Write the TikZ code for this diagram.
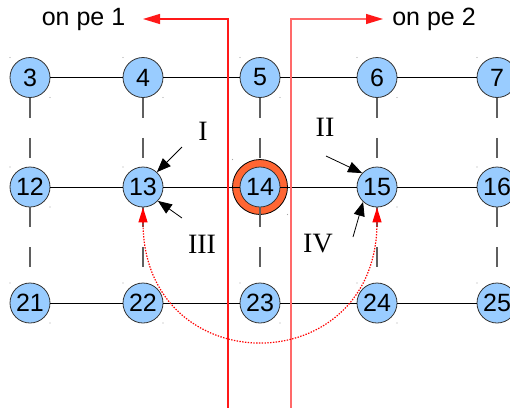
\documentclass[tikz,border=0pt]{standalone}
\usepackage{fontspec}
\setmainfont{Liberation Serif}
\newfontfamily\arialf{Liberation Sans}
\usetikzlibrary{arrows.meta}
\definecolor{nodeblue}{RGB}{153,204,255}
\definecolor{ringorange}{RGB}{255,102,51}
\definecolor{edgegray}{RGB}{51,51,51}
\definecolor{dashgray}{RGB}{95,95,95}
\definecolor{redA}{RGB}{255,25,25}
\definecolor{redB}{RGB}{255,105,105}
\begin{document}
\begin{tikzpicture}[x=1pt,y=-1pt,
  pe/.style={circle,minimum size=40pt,inner sep=0pt,fill=nodeblue,draw=edgegray,line width=0.8pt,font=\arialf\fontsize{25}{25}\selectfont},
  ringnode/.style={circle,minimum size=55pt,inner sep=0pt,fill=ringorange,draw=black,line width=0.8pt},
  hline/.style={draw=black,line width=0.9pt},
  vline/.style={draw=dashgray,line width=1.1pt,dash pattern=on 20pt off 20pt},
  roman/.style={font=\fontsize{28}{28}\selectfont,inner sep=0pt},
  petext/.style={font=\arialf\fontsize{25}{25}\selectfont,inner sep=0pt},
  blackarrow/.style={draw=black,line width=0.8pt,-{Triangle[length=14pt,width=11pt]}},
  redleft/.style={draw=redA,line width=1.2pt,-{Triangle[length=17pt,width=10pt]}},
  redright/.style={draw=redB,line width=1.2pt,-{Triangle[length=17pt,width=10pt,color=redA]}},
  redarc/.style={draw=red,line width=1.2pt,dash pattern=on 1.4pt off 1.4pt,{Triangle[length=15pt,width=9pt]}-{Triangle[length=15pt,width=9pt]}},
  handle/.style={fill=gray!70}
]
\useasboundingbox (0,0) rectangle (510,407);
% ring behind node 14
\node[ringnode] (r14) at (260,187) {};
% nodes
\foreach \n/\x/\y in {3/30/77.5,4/143/77.5,5/260/77.5,6/377/77.5,7/497/77.5,
                      12/30/187,13/143/187,14/260/187,15/377/187,16/497/187,
                      21/30/303,22/143/303,23/260/303,24/377/303,25/497/303}
  \node[pe] (n\n) at (\x,\y) {\n};
% corner handles
\foreach \n in {3,4,5,6,7,12,13,15,16,21,22,23,24,25}{
  \fill[handle] ([shift={(-20,-20)}]n\n.center) circle (0.7);
  \fill[handle] ([shift={(20,20)}]n\n.center) circle (0.7);
}
\fill[handle] ([shift={(-27.5,-27.5)}]r14.center) circle (0.7);
\fill[handle] ([shift={(27.5,27.5)}]r14.center) circle (0.7);
% horizontal connectors
\foreach \a/\b in {3/4,4/5,5/6,6/7,12/13,13/14,14/15,15/16,21/22,22/23,23/24,24/25}
  \draw[hline] (n\a) -- (n\b);
% vertical dashed connectors
\foreach \a/\b in {3/12,12/21,4/13,13/22,5/14,14/23,6/15,15/24,7/16,16/25}
  \draw[vline] (n\a) -- (n\b);
% red partition lines
\node[petext] (t1) at (83.5,19) {on pe 1};
\node[petext] (t2) at (434,19) {on pe 2};
\coordinate (p1bot) at (228,410);
\coordinate (p1top) at (228,19);
\coordinate (p1tip) at (143,19);
\coordinate (p2bot) at (291,410);
\coordinate (p2top) at (291,19);
\coordinate (p2tip) at (383,19);
\draw[redleft] (p1bot) -- (p1top) -- (p1tip);
\draw[redright] (p2bot) -- (p2top) -- (p2tip);
% labels and arrows
\node[roman] (lI) at (203,131) {I};
\node[roman] (lII) at (325,127) {II};
\node[roman] (lIII) at (202,244) {III};
\node[roman] (lIV) at (318,244) {IV};
\coordinate (sI) at (182,147);
\coordinate (sIII) at (182,218);
\coordinate (sII) at (326,156);
\coordinate (sIV) at (353,237);
\draw[blackarrow] (sI) -- (n13.47);
\draw[blackarrow] (sIII) -- (n13.317);
\draw[blackarrow] (sII) -- (n15.137);
\draw[blackarrow] (sIV) -- (n15.227);
% red dotted exchange arc
\draw[redarc] (n13.south) .. controls +(0,176) and +(0,176) .. (n15.south);
\end{tikzpicture}
\end{document}
